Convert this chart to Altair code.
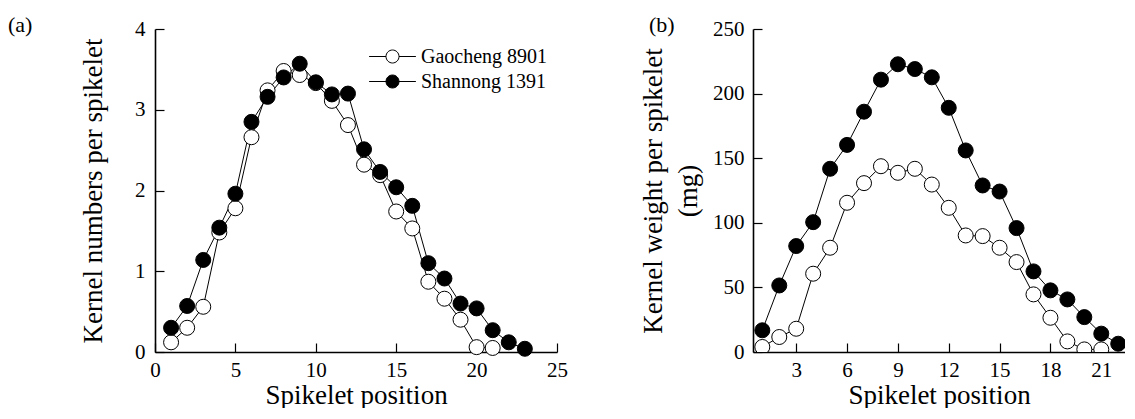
import altair as alt
import pandas as pd

SERIES = ["Gaocheng 8901", "Shannong 1391"]

# Panel (a): kernel numbers per spikelet
gaocheng_a = [0.12, 0.30, 0.56, 1.48, 1.78, 2.66, 3.24, 3.48, 3.43, 3.33, 3.11,
              2.81, 2.32, 2.19, 1.74, 1.53, 0.87, 0.66, 0.40, 0.06, 0.05]
shannong_a = [0.30, 0.57, 1.14, 1.54, 1.96, 2.85, 3.16, 3.40, 3.57, 3.34, 3.19,
              3.20, 2.51, 2.23, 2.04, 1.81, 1.10, 0.91, 0.60, 0.54, 0.27, 0.12, 0.04]

# Panel (b): kernel weight per spikelet (mg)
gaocheng_b = [3.9, 11.6, 18.0, 60.6, 80.7, 115.5, 130.7, 143.8, 138.7, 141.8, 129.6,
              111.6, 90.2, 89.7, 80.7, 69.6, 44.6, 26.5, 8.2, 2.0, 2.0]
shannong_b = [16.8, 51.5, 82.0, 100.5, 141.8, 160.3, 186.0, 210.8, 222.7, 219.0, 212.6,
              189.0, 156.0, 128.9, 124.2, 95.9, 62.4, 47.7, 40.7, 27.0, 14.2, 6.4, 1.8]

xticks_a = [0, 5, 10, 15, 20, 25]
yticks_a = [0, 1, 2, 3, 4]
xticks_b = [3, 6, 9, 12, 15, 18, 21]
yticks_b = [0, 50, 100, 150, 200, 250]


def frame(g, s):
    rows = []
    for name, vals in ((SERIES[0], g), (SERIES[1], s)):
        for i, v in enumerate(vals):
            rows.append({"pos": i + 1, "val": v, "series": name})
    return pd.DataFrame(rows)


FONT = "Liberation Serif"
LEGEND_PATH = "M-3.6,0L-1,0M1,0L3.6,0M1,0A1,1,0,1,1,-1,0A1,1,0,1,1,1,0Z"


def panel(df, xdom, xticks, ydom, yticks, ytitle, W, H, title, dx,
          legend, clip, ytitle_pad, ylabel_pad):
    fill_scale = alt.Scale(domain=SERIES, range=["white", "black"])
    xs = alt.Scale(domain=xdom, nice=False, zero=False)
    ys = alt.Scale(domain=ydom, nice=False, zero=False)
    base = alt.Chart(df)
    lines = base.mark_line(color="black", strokeWidth=1, clip=clip).encode(
        x=alt.X("pos:Q", scale=xs,
                axis=alt.Axis(values=xticks, title="Spikelet position", ticks=False,
                              tickSize=0, labelPadding=7, titlePadding=2,
                              grid=False, labelFlush=False)),
        y=alt.Y("val:Q", scale=ys,
                axis=alt.Axis(values=yticks, title=ytitle, ticks=False, tickSize=0,
                              labelPadding=ylabel_pad, titlePadding=ytitle_pad,
                              grid=False, labelFlush=False, titleLineHeight=35)),
        detail="series:N",
    )
    pts = base.mark_point(shape="circle", filled=True, size=225, stroke="black",
                          strokeWidth=1, opacity=1, clip=clip).encode(
        x=alt.X("pos:Q", scale=xs,
                axis=alt.Axis(orient="top", offset=-H, values=xticks, labels=False,
                              domain=False, title=None, tickSize=9, grid=False)),
        y=alt.Y("val:Q", scale=ys,
                axis=alt.Axis(orient="right", offset=-W, values=yticks, labels=False,
                              domain=False, title=None, tickSize=9, grid=False)),
        fill=alt.Fill("series:N", scale=fill_scale, legend=legend),
    )
    return alt.layer(lines, pts).resolve_scale(x="independent", y="independent").properties(
        width=W, height=H,
        title=alt.TitleParams(title, anchor="start", frame="group", dx=dx, dy=20.5,
                              offset=2, font=FONT, fontSize=22, fontWeight="normal",
                              color="black"),
    )


legend_a = alt.Legend(title=None, orient="none", legendX=227.5, legendY=17.5,
                      symbolType=LEGEND_PATH, symbolSize=169, symbolStrokeColor="black",
                      symbolStrokeWidth=1, symbolOpacity=1, labelFont=FONT,
                      labelFontSize=20, labelColor="black", labelOffset=18.5,
                      rowPadding=5, padding=0)

W_a, H_a = 402, 323
W_b, H_b = 372, 323

chart_a = panel(frame(gaocheng_a, shannong_a), [0, 25], xticks_a, [0, 4], yticks_a,
                "Kernel numbers per spikelet", W_a, H_a, "(a)", -147, legend_a, False,
                27, 10)
chart_b = panel(frame(gaocheng_b, shannong_b), [0.45, 22.4], xticks_b, [0, 250], yticks_b,
                ["Kernel weight per spikelet", "(mg)"], W_b, H_b, "(b)", -104, None, True,
                10, 9)

chart = alt.hconcat(chart_a, chart_b, spacing=71).properties(
    padding={"left": 0, "top": 5, "right": 0, "bottom": 0}
).configure_axis(
    labelFont=FONT, labelFontSize=21, labelColor="black",
    titleFont=FONT, titleFontSize=27, titleFontWeight="normal", titleColor="black",
    domainColor="black", domainWidth=1.6, tickColor="black", tickWidth=1.2,
).configure_view(stroke=None)

chart.save("out.html", embed_options={"renderer": "svg", "actions": False})
